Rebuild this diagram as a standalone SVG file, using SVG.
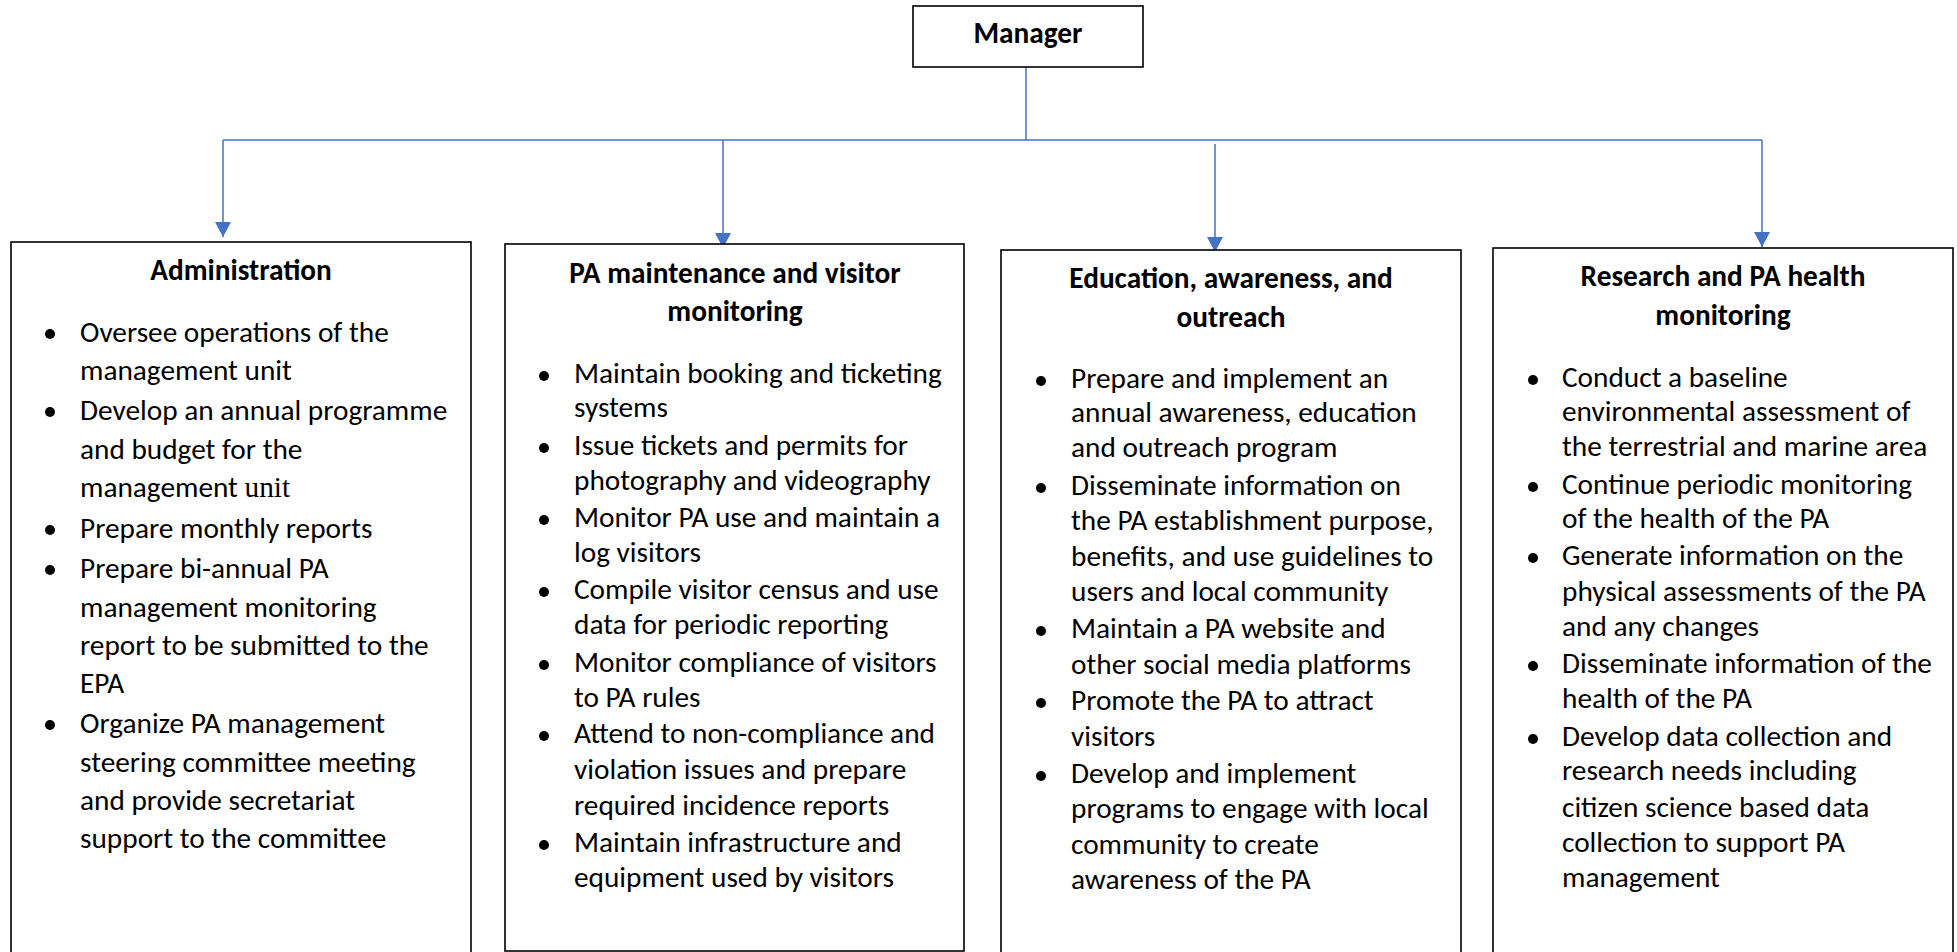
<svg xmlns="http://www.w3.org/2000/svg" width="1957" height="952" viewBox="0 0 1957 952">
<defs>
<style>
.box{fill:#fff;stroke:#000;stroke-width:1.6}
.t{font-family:Carlito,Calibri,Lato,"Liberation Sans",sans-serif;font-size:29.3px;fill:#000}
.h{font-family:Carlito,Calibri,Lato,"Liberation Sans",sans-serif;font-size:29.3px;font-weight:bold;fill:#000;text-anchor:middle}
.c{stroke:#4472C4;stroke-width:1.5;fill:none}
.ah{fill:#4472C4}
.b{fill:#000}
.serif{font-family:"Liberation Serif",serif}
</style>
</defs>
<rect width="1957" height="952" fill="#fff"/>
<g id="connectors">
<path class="c" d="M1026,67 V140 M223,140 H1762"/>
<path class="c" d="M223,140 V237"/>
<path class="c" d="M723,140 V248"/>
<path class="c" d="M1215,144 V252"/>
<path class="c" d="M1762,140 V247"/>
<path class="ah" d="M215,222 L231,222 L223,237 Z"/>
<path class="ah" d="M715,233 L731,233 L723,248 Z"/>
<path class="ah" d="M1207,237 L1223,237 L1215,252 Z"/>
<path class="ah" d="M1754,232 L1770,232 L1762,247 Z"/>
</g>
<g id="manager">
<rect class="box" x="913" y="6" width="230" height="61"/>
<text class="h" x="1028" y="43">Manager</text>
</g>
<g id="administration">
<rect class="box" x="11" y="242" width="460" height="730"/>
<text class="h" x="241" y="280">Administration</text>
<circle class="b" cx="50" cy="334" r="5"/>
<circle class="b" cx="50" cy="412" r="5"/>
<circle class="b" cx="50" cy="530" r="5"/>
<circle class="b" cx="50" cy="570" r="5"/>
<circle class="b" cx="50" cy="725" r="5"/>
<text class="t" x="80" y="342">Oversee operations of the</text>
<text class="t" x="80" y="380">management unit</text>
<text class="t" x="80" y="420">Develop an annual programme</text>
<text class="t" x="80" y="459">and budget for the</text>
<text class="t" x="80" y="497">management <tspan class="serif">unit</tspan></text>
<text class="t" x="80" y="538">Prepare monthly reports</text>
<text class="t" x="80" y="578">Prepare bi-annual PA</text>
<text class="t" x="80" y="617">management monitoring</text>
<text class="t" x="80" y="655">report to be submitted to the</text>
<text class="t" x="80" y="693">EPA</text>
<text class="t" x="80" y="733">Organize PA management</text>
<text class="t" x="80" y="772">steering committee meeting</text>
<text class="t" x="80" y="810">and provide secretariat</text>
<text class="t" x="80" y="848">support to the committee</text>
</g>
<g id="maintenance">
<rect class="box" x="505" y="244" width="459" height="707"/>
<text class="h" x="735" y="283">PA maintenance and visitor</text>
<text class="h" x="735" y="321">monitoring</text>
<circle class="b" cx="544" cy="376" r="5"/>
<circle class="b" cx="544" cy="448" r="5"/>
<circle class="b" cx="544" cy="520" r="5"/>
<circle class="b" cx="544" cy="592" r="5"/>
<circle class="b" cx="544" cy="665" r="5"/>
<circle class="b" cx="544" cy="736" r="5"/>
<circle class="b" cx="544" cy="845" r="5"/>
<text class="t" x="574" y="383">Maintain booking and ticketing</text>
<text class="t" x="574" y="417">systems</text>
<text class="t" x="574" y="455">Issue tickets and permits for</text>
<text class="t" x="574" y="490">photography and videography</text>
<text class="t" x="574" y="527">Monitor PA use and maintain a</text>
<text class="t" x="574" y="562">log visitors</text>
<text class="t" x="574" y="599">Compile visitor census and use</text>
<text class="t" x="574" y="634">data for periodic reporting</text>
<text class="t" x="574" y="672">Monitor compliance of visitors</text>
<text class="t" x="574" y="707">to PA rules</text>
<text class="t" x="574" y="743">Attend to non-compliance and</text>
<text class="t" x="574" y="779">violation issues and prepare</text>
<text class="t" x="574" y="815">required incidence reports</text>
<text class="t" x="574" y="852">Maintain infrastructure and</text>
<text class="t" x="574" y="887">equipment used by visitors</text>
</g>
<g id="education">
<rect class="box" x="1001" y="250" width="460" height="730"/>
<text class="h" x="1231" y="288">Education, awareness, and</text>
<text class="h" x="1231" y="327">outreach</text>
<circle class="b" cx="1041" cy="381" r="5"/>
<circle class="b" cx="1041" cy="488" r="5"/>
<circle class="b" cx="1041" cy="631" r="5"/>
<circle class="b" cx="1041" cy="703" r="5"/>
<circle class="b" cx="1041" cy="776" r="5"/>
<text class="t" x="1071" y="388">Prepare and implement an</text>
<text class="t" x="1071" y="422">annual awareness, education</text>
<text class="t" x="1071" y="457">and outreach program</text>
<text class="t" x="1071" y="495">Disseminate information on</text>
<text class="t" x="1071" y="530">the PA establishment purpose,</text>
<text class="t" x="1071" y="566">benefits, and use guidelines to</text>
<text class="t" x="1071" y="601">users and local community</text>
<text class="t" x="1071" y="638">Maintain a PA website and</text>
<text class="t" x="1071" y="674">other social media platforms</text>
<text class="t" x="1071" y="710">Promote the PA to attract</text>
<text class="t" x="1071" y="746">visitors</text>
<text class="t" x="1071" y="783">Develop and implement</text>
<text class="t" x="1071" y="818">programs to engage with local</text>
<text class="t" x="1071" y="854">community to create</text>
<text class="t" x="1071" y="889">awareness of the PA</text>
</g>
<g id="research">
<rect class="box" x="1493" y="248" width="460" height="730"/>
<text class="h" x="1723" y="286">Research and PA health</text>
<text class="h" x="1723" y="325">monitoring</text>
<circle class="b" cx="1533" cy="380" r="5"/>
<circle class="b" cx="1533" cy="487" r="5"/>
<circle class="b" cx="1533" cy="558" r="5"/>
<circle class="b" cx="1533" cy="666" r="5"/>
<circle class="b" cx="1533" cy="739" r="5"/>
<text class="t" x="1562" y="387">Conduct a baseline</text>
<text class="t" x="1562" y="421">environmental assessment of</text>
<text class="t" x="1562" y="456">the terrestrial and marine area</text>
<text class="t" x="1562" y="494">Continue periodic monitoring</text>
<text class="t" x="1562" y="528">of the health of the PA</text>
<text class="t" x="1562" y="565">Generate information on the</text>
<text class="t" x="1562" y="601">physical assessments of the PA</text>
<text class="t" x="1562" y="636">and any changes</text>
<text class="t" x="1562" y="673">Disseminate information of the</text>
<text class="t" x="1562" y="708">health of the PA</text>
<text class="t" x="1562" y="746">Develop data collection and</text>
<text class="t" x="1562" y="780">research needs including</text>
<text class="t" x="1562" y="817">citizen science based data</text>
<text class="t" x="1562" y="852">collection to support PA</text>
<text class="t" x="1562" y="887">management</text>
</g>
</svg>
